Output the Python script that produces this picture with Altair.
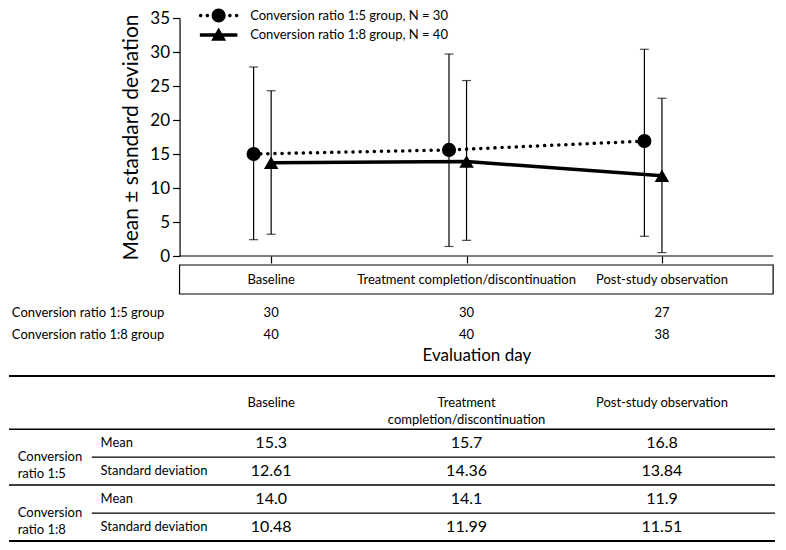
import altair as alt
import pandas as pd

# ---------------- data ----------------
days = ["Baseline", "Treatment completion/discontinuation", "Post-study observation"]
days_table = ["Baseline", "Treatment\ncompletion/discontinuation", "Post-study observation"]
series = ["Conversion ratio 1:5 group, N = 30", "Conversion ratio 1:8 group, N = 40"]

mean_15 = [15.0, 15.6, 16.9]
low_15 = [2.4, 1.4, 2.9]
high_15 = [27.8, 29.7, 30.4]
mean_18 = [13.7, 13.9, 11.8]
low_18 = [3.2, 2.3, 0.5]
high_18 = [24.3, 25.8, 23.2]

n_labels = ["Conversion ratio 1:5 group", "Conversion ratio 1:8 group"]
n_15 = [30, 30, 27]
n_18 = [40, 40, 38]

table_groups = ["Conversion\nratio 1:5", "Conversion\nratio 1:8"]
table_stats = ["Mean", "Standard deviation"]
tbl_mean_15 = ["15.3", "15.7", "16.8"]
tbl_sd_15 = ["12.61", "14.36", "13.84"]
tbl_mean_18 = ["14.0", "14.1", "11.9"]
tbl_sd_18 = ["10.48", "11.99", "11.51"]

# ---------------- layout constants (category-index units) ----------------
W = 766
FONT = "Lato"
XMIN, XMAX = -1.3417, 2.5786
AXIS_X = -0.4688        # position of the y axis / left edge of the box
BOX_R = 2.569           # right edge of plot axis line / box
OFF_15 = -0.0898        # horizontal offset of 1:5 series
LABEL_X = -1.327        # N-row labels
GROUP_X = -1.297        # table group labels
STAT_X = -0.873         # table stat labels
STAT_LINE_X = -0.918    # start of partial table separators
HEADER_H = 1.9

def to_px(v):
    return (v - XMIN) / (XMAX - XMIN) * W

xs = alt.Scale(domain=[XMIN, XMAX], nice=False, zero=False)
ys = alt.Scale(domain=[0, 35], nice=False, zero=False)

# ---------------- panel A: main plot ----------------
idx = list(range(len(days)))
pts = pd.DataFrame({
    "series": [series[0]] * 3 + [series[1]] * 3,
    "idx": idx * 2,
    "mean": mean_15 + mean_18,
    "low": low_15 + low_18,
    "high": high_15 + high_18,
})

xaxis_a = alt.Axis(values=[0, 1, 2], labels=False, domain=False, ticks=True, tickSize=7,
                   tickWidth=1.2, tickColor="black", grid=False, title=None)
yaxis = alt.Axis(values=list(range(0, 36, 5)), offset=-to_px(AXIS_X), domainColor="black",
                 domainWidth=1.2, tickColor="black", tickWidth=1.2, tickSize=7, labelFont=FONT,
                 labelFontSize=17, labelColor="black", labelPadding=3, titleFont=FONT,
                 titleFontSize=21, titleFontWeight="normal", titleColor="black", titlePadding=8,
                 grid=False, title="Mean \u00b1 standard deviation")

X = alt.X("x:Q", scale=xs, axis=xaxis_a)

base = alt.Chart(pts).transform_calculate(
    x=f"datum.idx + (datum.series == '{series[0]}' ? {OFF_15} : 0)"
)
s15 = alt.datum.series == series[0]
s18 = alt.datum.series == series[1]

line15 = base.transform_filter(s15).mark_line(color="black", strokeWidth=3.5, strokeDash=[0.1, 7],
                                                strokeCap="round").encode(
    x=X, y=alt.Y("mean:Q", scale=ys, axis=yaxis))
line18 = base.transform_filter(s18).mark_line(color="black", strokeWidth=3.5).encode(
    x=X, y=alt.Y("mean:Q", scale=ys, axis=yaxis))
err = base.mark_rule(color="black", strokeWidth=1.2).encode(
    x=X, y=alt.Y("low:Q", scale=ys, axis=yaxis), y2="high:Q")
cap_hi = base.mark_tick(color="black", orient="horizontal", size=9, thickness=1.2).encode(
    x=X, y=alt.Y("high:Q", scale=ys, axis=yaxis))
cap_lo = base.mark_tick(color="black", orient="horizontal", size=9, thickness=1.2).encode(
    x=X, y=alt.Y("low:Q", scale=ys, axis=yaxis))
pt15 = base.transform_filter(s15).mark_point(shape="circle", filled=True, size=200, color="black",
                                              opacity=1).encode(
    x=X, y=alt.Y("mean:Q", scale=ys, axis=yaxis))
pt18 = base.transform_filter(s18).mark_point(shape="triangle-up", filled=True, size=210,
                                              color="black", opacity=1).encode(
    x=X, y=alt.Y("mean:Q", scale=ys, axis=yaxis))

dummy = pd.DataFrame({"k": [0]})
axis_line = alt.Chart(dummy).mark_rule(color="black", strokeWidth=1.2).encode(
    x=alt.X(datum=AXIS_X, type="quantitative", scale=xs, axis=xaxis_a),
    x2=alt.X2(datum=BOX_R),
    y=alt.Y(datum=0, type="quantitative", scale=ys, axis=yaxis),
)

# legend glyphs: line-with-marker drawn as filled SVG paths (unit = sqrt(size)/2 px)
def _dot(cx, r):
    return f"M {cx + r} 0 A {r} {r} 0 1 1 {cx - r} 0 A {r} {r} 0 1 1 {cx + r} 0 Z "

P_C = _dot(0, 0.93) + "".join(_dot(c, 0.24) for c in (-2.4, -1.5, 1.5, 2.4))
P_T = ("M -2.5 -0.22 L 2.5 -0.22 L 2.5 0.22 L -2.5 0.22 Z "
       "M 0 -1.0 L 1.0 0.75 L -1.0 0.75 Z")

leg = alt.Legend(title=None, orient="none", legendX=to_px(-0.2688) - 7.5, legendY=-10,
                 labelFont=FONT, labelFontSize=13, labelColor="black", labelLimit=0,
                 symbolSize=225, symbolFillColor="black", symbolStrokeWidth=0,
                 symbolOpacity=1, labelOffset=24, rowPadding=4.5, padding=0)
legend_layer = alt.Chart(pd.DataFrame({"series": series})).transform_filter("false").mark_point(
    filled=True, color="black", size=225, opacity=1).encode(
    shape=alt.Shape("series:N", scale=alt.Scale(domain=series, range=[P_C, P_T]), legend=leg),
)

panel_a = alt.layer(axis_line, line15, line18, err, cap_hi, cap_lo, pt15, pt18, legend_layer).properties(
    width=W, height=238)

# ---------------- panel B: category box ----------------
day_df = pd.DataFrame({"day": days, "idx": idx})
box = alt.Chart(dummy).mark_rect(fill="transparent", stroke="black", strokeWidth=1.2).encode(
    x=alt.X(datum=AXIS_X, type="quantitative", scale=xs, axis=None),
    x2=alt.X2(datum=BOX_R),
)
box_text = alt.Chart(day_df).mark_text(font=FONT, fontSize=13, color="black").encode(
    x=alt.X("idx:Q", scale=xs, axis=None), text="day:N")
panel_b = alt.layer(box, box_text).properties(width=W, height=29)

# ---------------- panel C: N per group ----------------
ndf = pd.DataFrame({"row": [n_labels[0]] * 3 + [n_labels[1]] * 3, "idx": idx * 2, "n": n_15 + n_18})
rowsc = alt.Scale(type="point", domain=n_labels, padding=0.636, align=0.643)
xaxis_c = alt.Axis(labels=False, ticks=False, domain=False, grid=False, title="Evaluation day",
                   titleFont=FONT, titleFontSize=17, titleFontWeight="normal", titleColor="black",
                   titleX=to_px((AXIS_X + BOX_R) / 2), titlePadding=2)
n_text = alt.Chart(ndf).mark_text(font=FONT, fontSize=13, color="black").encode(
    x=alt.X("idx:Q", scale=xs, axis=xaxis_c),
    y=alt.Y("row:N", scale=rowsc, axis=None), text="n:Q")
n_lab = alt.Chart(pd.DataFrame({"row": n_labels})).mark_text(
    font=FONT, fontSize=13, color="black", align="left").encode(
    x=alt.X(datum=LABEL_X, type="quantitative", scale=xs, axis=xaxis_c),
    y=alt.Y("row:N", scale=rowsc, axis=None), text="row:N")
panel_c = alt.layer(n_text, n_lab).properties(width=W, height=50)

# ---------------- panel D: summary table ----------------
tys = alt.Scale(domain=[0, HEADER_H + 4], reverse=True, nice=False, zero=False)
value_rows = [tbl_mean_15, tbl_sd_15, tbl_mean_18, tbl_sd_18]
vals = pd.DataFrame({
    "idx": idx * 4,
    "r": sum([[r] * 3 for r in range(4)], []),
    "txt": sum(value_rows, []),
})
hdr = pd.DataFrame({"idx": idx, "txt": days_table})
stats = pd.DataFrame({"r": list(range(4)), "txt": table_stats * 2})
grps = pd.DataFrame({"g": [0, 1], "txt": table_groups})

YT = alt.Y("yy:Q", scale=tys, axis=None)
XT = alt.X("idx:Q", scale=xs, axis=None)

t_vals = alt.Chart(vals).transform_calculate(yy=f"{HEADER_H} + datum.r + 0.5").mark_text(
    font=FONT, fontSize=16, color="black").encode(x=XT, y=YT, text="txt:N")
t_hdr = alt.Chart(hdr).transform_calculate(yy=f"{HEADER_H} / 2").mark_text(
    font=FONT, fontSize=13, color="black", lineBreak="\n", lineHeight=17).encode(x=XT, y=YT, text="txt:N")
t_stats = alt.Chart(stats).transform_calculate(yy=f"{HEADER_H} + datum.r + 0.5").mark_text(
    font=FONT, fontSize=13, color="black", align="left").encode(
    x=alt.X(datum=STAT_X, type="quantitative", scale=xs, axis=None), y=YT, text="txt:N")
t_grps = alt.Chart(grps).transform_calculate(yy=f"{HEADER_H} + 2 * datum.g + 1").mark_text(
    font=FONT, fontSize=13, color="black", align="left", lineBreak="\n", lineHeight=17).encode(
    x=alt.X(datum=GROUP_X, type="quantitative", scale=xs, axis=None), y=YT, text="txt:N")

full_rules = pd.DataFrame({"yy": [0, HEADER_H, HEADER_H + 2, HEADER_H + 4], "w": [2, 1.5, 1.5, 2]})
part_rules = pd.DataFrame({"yy": [HEADER_H + 1, HEADER_H + 3]})
r_full = alt.Chart(full_rules).mark_rule(color="black").encode(
    y=YT, strokeWidth=alt.StrokeWidth("w:Q", scale=None, legend=None))
r_part = alt.Chart(part_rules).mark_rule(color="black", strokeWidth=1.2).encode(
    y=YT, x=alt.X(datum=STAT_LINE_X, type="quantitative", scale=xs, axis=None),
    x2=alt.X2(datum=XMAX))

panel_d = alt.layer(r_full, r_part, t_hdr, t_vals, t_stats, t_grps).properties(width=W, height=165)

top = alt.vconcat(panel_a, panel_b, panel_c, spacing=0)
chart = (
    alt.vconcat(top, panel_d, spacing=12)
    .properties(padding=0)
    .configure(font=FONT)
    .configure_view(strokeWidth=0, strokeOpacity=0)
)

chart.save("out.html", embed_options={"renderer": "svg", "actions": False})
